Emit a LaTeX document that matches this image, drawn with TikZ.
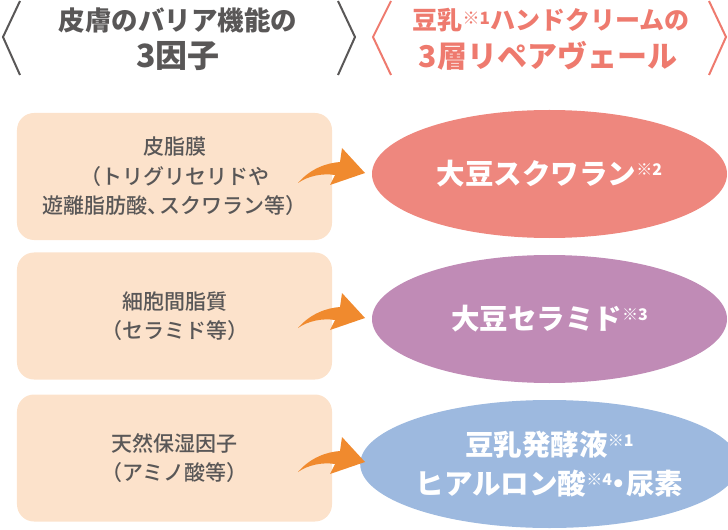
\documentclass[tikz,border=0pt]{standalone}
\usepackage{fontspec}
\setmainfont{Noto Sans CJK JP}
\newfontfamily\jpmed{Noto Sans CJK JP Medium}
\usetikzlibrary{shapes.geometric}
\definecolor{graytxt}{HTML}{595757}
\definecolor{salmon}{HTML}{EE7A6E}
\definecolor{boxfill}{HTML}{FCE2CB}
\definecolor{ellA}{HTML}{EE877E}
\definecolor{ellB}{HTML}{C08BB6}
\definecolor{ellC}{HTML}{9DB9DF}
\definecolor{arrowcol}{HTML}{F08A2E}
\newcommand\supnum[3]{\raisebox{#2}{\fontsize{#1}{#1}\selectfont ※#3}}
\tikzset{
  factorbox/.style={rectangle, rounded corners=17bp, fill=boxfill, minimum width=315bp, minimum height=127bp, inner sep=0pt, align=center, text=graytxt, font={\jpmed\fontsize{21bp}{29.5bp}\selectfont}},
  veil/.style={ellipse, minimum width=355bp, minimum height=128bp, inner sep=0pt, align=center, text=white, font={\bfseries\fontsize{28.5bp}{39bp}\selectfont}},
  headtxt/.style={align=center, inner sep=0pt},
  bracketline/.style={line width=2bp},
  curvarrow/.pic={\fill[arrowcol] (0,0) .. controls (12,-14) and (28,-20) .. (42,-21) -- (44,-35) -- (67,-10) -- (32,2) -- (37,-8) .. controls (24,-10) and (10,-7) .. cycle;}
}
\begin{document}
\begin{tikzpicture}[x=1bp,y=-1bp]
\useasboundingbox (0,0) rectangle (728,530);
% headers
\node[headtxt, text=graytxt] (hl1) at (178,20) {\bfseries\fontsize{26.5bp}{26bp}\selectfont 皮膚のバリア機能の};
\node[headtxt, text=graytxt] (hl2) at (178,56) {\bfseries\fontsize{32bp}{30bp}\selectfont 3因子};
\node[headtxt, text=salmon] (hr1) at (551,20) {\bfseries\fontsize{25bp}{25bp}\selectfont 豆乳\supnum{17bp}{5bp}{1}ハンドクリームの};
\node[headtxt, text=salmon] (hr2) at (548,56) {\bfseries\fontsize{30bp}{30bp}\selectfont 3層リペアヴェール};
\coordinate (bl1) at (20,1); \coordinate (bl2) at (3,37); \coordinate (bl3) at (20,75);
\coordinate (br1) at (338,1); \coordinate (br2) at (355,37); \coordinate (br3) at (338,75);
\coordinate (cl1) at (391,1); \coordinate (cl2) at (373,37); \coordinate (cl3) at (391,75);
\coordinate (cr1) at (709,1); \coordinate (cr2) at (726,37); \coordinate (cr3) at (709,75);
\draw[bracketline, graytxt] (bl1) -- (bl2) -- (bl3);
\draw[bracketline, graytxt] (br1) -- (br2) -- (br3);
\draw[bracketline, salmon] (cl1) -- (cl2) -- (cl3);
\draw[bracketline, salmon] (cr1) -- (cr2) -- (cr3);
% boxes
\node[factorbox] (f1) at (174.5,176.5) {皮脂膜\\（トリグリセリドや\\遊離脂肪酸、\kern-0.45em スクワラン等）};
\node[factorbox] (f2) at (174.5,316) {細胞間脂質\\（セラミド等）};
\node[factorbox] (f3) at (174.5,458) {天然保湿因子\\（アミノ酸等）};
% ellipses
\node[veil, fill=ellA] (e1) at (549.5,174) {大豆スクワラン\supnum{16bp}{9bp}{2}};
\node[veil, fill=ellB] (e2) at (549.5,319) {大豆セラミド\supnum{16bp}{9bp}{3}};
\node[veil, fill=ellC] (e3) at (549.5,464) {豆乳発酵液\supnum{16bp}{9bp}{1}\\ヒアルロン酸\supnum{16bp}{9bp}{4}\kern-0.25em・\kern-0.25em 尿素};
% arrows
\coordinate (a1) at (298,183);
\coordinate (a2) at (298,328);
\coordinate (a3) at (298,472);
\pic at (a1) {curvarrow};
\pic at (a2) {curvarrow};
\pic at (a3) {curvarrow};
\end{tikzpicture}
\end{document}
